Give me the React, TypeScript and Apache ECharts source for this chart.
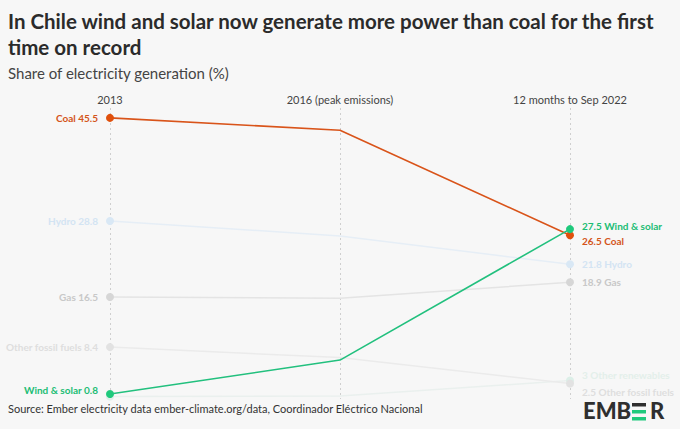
import React, { useEffect, useRef } from "react";
import * as echarts from "echarts";

const periods = ["2013", "2016 (peak emissions)", "12 months to Sep 2022"];
const seriesNames = ["Other renewables", "Other fossil fuels", "Gas", "Hydro", "Coal", "Wind & solar"];
const otherRenewables = [0.4, 0.5, 3];
const otherFossil = [8.4, 6.7, 2.5];
const gas = [16.5, 16.3, 18.9];
const hydro = [28.8, 26.4, 21.8];
const coal = [45.5, 43.5, 26.5];
const windSolar = [0.8, 6.3, 27.5];
const titleText = "In Chile wind and solar now generate more power than coal for the first\ntime on record";
const subtitleText = "Share of electricity generation (%)";
const sourceText = "Source: Ember electricity data ember-climate.org/data, Coordinador Eléctrico Nacional";

const FONT = "Lato, 'Noto Sans', sans-serif";

type Cfg = {
  name: string;
  values: number[];
  line: string;
  dot: string;
  text: string;
  width: number;
  z: number;
  showLeft: boolean;
  leftDy: number;
  rightDy: number;
};

const configs: Cfg[] = [
  { name: seriesNames[0], values: otherRenewables, line: "#eaf0ee", dot: "#dcefe8", text: "#e3efea", width: 1.5, z: 1, showLeft: false, leftDy: 0, rightDy: -5 },
  { name: seriesNames[1], values: otherFossil, line: "#ebebeb", dot: "#e2e2e2", text: "#dedede", width: 1.5, z: 2, showLeft: true, leftDy: 0, rightDy: 8 },
  { name: seriesNames[2], values: gas, line: "#e4e4e4", dot: "#d6d6d6", text: "#c8c8c8", width: 1.5, z: 3, showLeft: true, leftDy: 0, rightDy: 0 },
  { name: seriesNames[3], values: hydro, line: "#e6eef6", dot: "#d9e8f5", text: "#d3e4f3", width: 1.5, z: 4, showLeft: true, leftDy: 0, rightDy: 0 },
  { name: seriesNames[4], values: coal, line: "#d9541a", dot: "#e0500c", text: "#d4541a", width: 1.6, z: 6, showLeft: true, leftDy: 0, rightDy: 6 },
  { name: seriesNames[5], values: windSolar, line: "#22c07e", dot: "#1ec97c", text: "#1bbd74", width: 1.6, z: 7, showLeft: true, leftDy: -4, rightDy: -3 },
];

export default function App() {
  const ref = useRef<HTMLDivElement>(null);
  useEffect(() => {
    document.body.style.margin = "0";
    const chart = echarts.init(ref.current!, null, { renderer: "svg" });
    const labelBase = { fontWeight: "bold", fontSize: 10, fontFamily: FONT };
    const series = configs.map((c) => ({
      name: c.name,
      type: "line",
      z: c.z,
      symbol: "circle",
      symbolSize: 8,
      showSymbol: true,
      lineStyle: { color: c.line, width: c.width },
      itemStyle: { color: c.dot },
      emphasis: { disabled: true },
      data: c.values.map((v, i) => {
        if (i === 0) {
          return {
            value: v,
            label: {
              ...labelBase,
              show: c.showLeft,
              position: "left",
              distance: 8,
              offset: [0, c.leftDy],
              formatter: `${c.name} ${v}`,
              color: c.text,
            },
          };
        }
        if (i === c.values.length - 1) {
          return {
            value: v,
            label: {
              ...labelBase,
              show: true,
              position: "right",
              distance: 8,
              offset: [0, c.rightDy],
              formatter: `${v} ${c.name}`,
              color: c.text,
            },
          };
        }
        return { value: v, symbolSize: 0, label: { show: false } };
      }),
    }));

    chart.setOption({
      animation: false,
      backgroundColor: "#f7f7f7",
      grid: { left: 110, right: 110, top: 108, bottom: 30 },
      xAxis: {
        type: "category",
        data: periods,
        position: "top",
        boundaryGap: false,
        axisLine: { show: false },
        axisTick: { show: false },
        axisLabel: { color: "#444", fontSize: 11, fontFamily: FONT, margin: 3 },
        splitLine: { show: true, lineStyle: { type: [2, 3], color: "#cfcfcf", width: 1 } },
      },
      yAxis: {
        type: "value",
        min: 0,
        max: 47.1,
        show: false,
        splitLine: { show: false },
      },
      series,
      graphic: [
        {
          type: "text",
          left: 8,
          top: 8,
          style: {
            text: titleText,
            font: `bold 20.5px ${FONT}`,
            fill: "#2b2b2b",
            lineHeight: 26,
          },
        },
        {
          type: "text",
          left: 8,
          top: 65,
          style: { text: subtitleText, font: `15px ${FONT}`, fill: "#444" },
        },
        {
          type: "text",
          left: 8,
          top: 403,
          style: { text: sourceText, font: `11px ${FONT}`, fill: "#333" },
        },
        {
          type: "group",
          left: 583,
          top: 399,
          children: [
            { type: "text", x: 0, y: 0, style: { text: "EMB", font: `900 22px ${FONT}`, fill: "#2f2f2f" } },
            { type: "rect", x: 49, y: 4, shape: { width: 14, height: 3.5 }, style: { fill: "#2f2f2f" } },
            { type: "rect", x: 49, y: 11, shape: { width: 14, height: 3.5 }, style: { fill: "#1ec97c" } },
            { type: "rect", x: 49, y: 18, shape: { width: 14, height: 3.5 }, style: { fill: "#1ec97c" } },
            { type: "text", x: 67, y: 0, style: { text: "R", font: `900 22px ${FONT}`, fill: "#2f2f2f" } },
          ],
        },
      ],
    });
    return () => chart.dispose();
  }, []);
  return <div ref={ref} style={{ width: 680, height: 429 }} />;
}
